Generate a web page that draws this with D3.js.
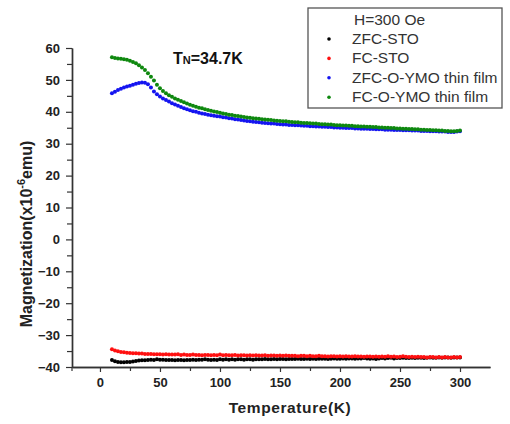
<!DOCTYPE html>
<html>
<head>
    <meta charset="utf-8" />
    <style>
        body { margin: 0; background: #fff; }
        svg { display: block; font-family: Arial, "Liberation Sans", sans-serif; }
    </style>
    <script src="https://d3js.org/d3.v7.min.js"></script>
</head>
<body>
<svg id="chart"></svg>
<script>

// temperature grid (K)
let temps = [
    10, 12.5, 15, 17.5, 20, 22.5, 25, 27.5, 30, 32.5,
    35, 37.5, 40, 42.5, 45, 47.5, 50, 52.5, 55, 57.5,
    60, 62.5, 65, 67.5, 70, 72.5, 75, 77.5, 80, 82.5,
    85, 87.5, 90, 92.5, 95, 97.5, 100, 102.5, 105, 107.5,
    110, 112.5, 115, 117.5, 120, 122.5, 125, 127.5, 130, 132.5,
    135, 137.5, 140, 142.5, 145, 147.5, 150, 152.5, 155, 157.5,
    160, 162.5, 165, 167.5, 170, 172.5, 175, 177.5, 180, 182.5,
    185, 187.5, 190, 192.5, 195, 197.5, 200, 202.5, 205, 207.5,
    210, 212.5, 215, 217.5, 220, 222.5, 225, 227.5, 230, 232.5,
    235, 237.5, 240, 242.5, 245, 247.5, 250, 252.5, 255, 257.5,
    260, 262.5, 265, 267.5, 270, 272.5, 275, 277.5, 280, 282.5,
    285, 287.5, 290, 292.5, 295, 297.5, 300
];

let zfcSTO = [
    -37.8, -38.2, -38.4, -38.5, -38.5, -38.4, -38.4, -38.3, -38.1, -38.0,
    -37.9, -37.9, -37.8, -37.7, -37.8, -37.6, -37.7, -37.7, -37.8, -37.8,
    -37.8, -37.9, -37.8, -37.8, -37.9, -37.8, -37.8, -37.7, -37.8, -37.7,
    -37.7, -37.6, -37.7, -37.8, -37.7, -37.8, -37.6, -37.7, -37.6, -37.7,
    -37.6, -37.7, -37.6, -37.6, -37.7, -37.6, -37.6, -37.7, -37.6, -37.6,
    -37.6, -37.5, -37.6, -37.6, -37.5, -37.6, -37.5, -37.5, -37.6, -37.5,
    -37.5, -37.5, -37.4, -37.5, -37.5, -37.4, -37.5, -37.4, -37.5, -37.4,
    -37.4, -37.4, -37.5, -37.4, -37.3, -37.4, -37.4, -37.3, -37.4, -37.3,
    -37.3, -37.4, -37.3, -37.3, -37.2, -37.3, -37.4, -37.3, -37.5, -37.3,
    -37.2, -37.3, -37.2, -37.1, -37.3, -37.2, -37.2, -37.1, -37.2, -37.2,
    -37.1, -37.2, -37.1, -37.1, -37.2, -37.1, -37.0, -37.1, -37.1, -37.0,
    -37.1, -37.0, -37.0, -37.1, -37.0, -37.0, -37.0
];

let fcSTO = [
    -34.4, -34.8, -35.1, -35.3, -35.4, -35.5, -35.6, -35.7, -35.7, -35.8,
    -35.8, -35.9, -35.9, -35.9, -36.0, -36.0, -36.0, -36.1, -36.0, -36.1,
    -36.1, -36.1, -36.0, -36.2, -36.1, -36.2, -36.2, -36.1, -36.2, -36.2,
    -36.3, -36.2, -36.2, -36.3, -36.2, -36.3, -36.1, -36.3, -36.2, -36.3,
    -36.3, -36.2, -36.4, -36.3, -36.3, -36.4, -36.3, -36.4, -36.3, -36.4,
    -36.4, -36.3, -36.5, -36.4, -36.4, -36.5, -36.4, -36.5, -36.4, -36.5,
    -36.5, -36.5, -36.6, -36.5, -36.5, -36.6, -36.5, -36.6, -36.6, -36.5,
    -36.6, -36.6, -36.7, -36.6, -36.6, -36.7, -36.6, -36.7, -36.6, -36.7,
    -36.7, -36.6, -36.7, -36.7, -36.8, -36.7, -36.7, -36.8, -36.7, -36.8,
    -36.7, -36.8, -36.6, -36.8, -36.7, -36.9, -36.8, -36.6, -36.8, -36.9,
    -36.8, -36.9, -36.8, -36.9, -36.9, -37.0, -36.9, -36.9, -37.0, -36.9,
    -37.0, -36.9, -37.0, -37.0, -36.9, -37.0, -36.9
];

let zfcYMO = [
    45.8, 46.3, 46.8, 47.2, 47.6, 47.9, 48.2, 48.5, 48.8, 49.0,
    49.2, 49.1, 48.6, 47.6, 46.4, 45.5, 44.8, 44.2, 43.7, 43.2,
    42.7, 42.3, 41.9, 41.5, 41.1, 40.8, 40.5, 40.2, 40.0, 39.7,
    39.5, 39.3, 39.1, 38.9, 38.8, 38.6, 38.5, 38.3, 38.2, 38.0,
    37.9, 37.7, 37.6, 37.4, 37.3, 37.1, 37.0, 36.9, 36.8, 36.7,
    36.6, 36.5, 36.4, 36.3, 36.3, 36.2, 36.1, 36.0, 36.0, 35.9,
    35.9, 35.8, 35.8, 35.7, 35.6, 35.6, 35.5, 35.5, 35.4, 35.4,
    35.3, 35.3, 35.2, 35.2, 35.1, 35.1, 35.0, 35.0, 34.9, 34.9,
    34.9, 34.8, 34.8, 34.7, 34.7, 34.7, 34.6, 34.6, 34.5, 34.5,
    34.5, 34.4, 34.4, 34.4, 34.3, 34.3, 34.3, 34.2, 34.2, 34.2,
    34.1, 34.1, 34.1, 34.0, 34.0, 34.0, 33.9, 33.9, 33.9, 33.8,
    33.8, 33.8, 33.7, 33.7, 33.7, 33.8, 33.9
];

let fcYMO = [
    57.1, 56.9, 56.7, 56.6, 56.5, 56.3, 56.0, 55.6, 55.2, 54.6,
    53.9, 53.1, 52.1, 51.0, 49.8, 48.5, 47.4, 46.5, 45.8, 45.2,
    44.7, 44.2, 43.8, 43.4, 43.0, 42.6, 42.2, 41.9, 41.6, 41.3,
    41.1, 40.8, 40.6, 40.3, 40.1, 39.9, 39.7, 39.5, 39.3, 39.1,
    39.0, 38.8, 38.7, 38.5, 38.4, 38.2, 38.1, 38.0, 37.9, 37.8,
    37.7, 37.6, 37.5, 37.4, 37.3, 37.2, 37.1, 37.0, 37.0, 36.9,
    36.8, 36.7, 36.7, 36.6, 36.5, 36.5, 36.4, 36.3, 36.3, 36.2,
    36.1, 36.1, 36.0, 36.0, 35.9, 35.8, 35.8, 35.7, 35.7, 35.6,
    35.6, 35.5, 35.5, 35.4, 35.4, 35.3, 35.3, 35.2, 35.2, 35.1,
    35.1, 35.0, 35.0, 34.9, 34.9, 34.8, 34.8, 34.7, 34.7, 34.6,
    34.6, 34.5, 34.5, 34.4, 34.4, 34.3, 34.3, 34.2, 34.2, 34.1,
    34.1, 34.0, 34.0, 33.9, 33.9, 34.0, 34.1
];

let seriesNames = ["ZFC-STO", "FC-STO", "ZFC-O-YMO thin film", "FC-O-YMO thin film"];
let seriesValues = [zfcSTO, fcSTO, zfcYMO, fcYMO];
let seriesColors = ["#000000", "#ff1010", "#1414f0", "#0e880e"];

let xMajor = [0, 50, 100, 150, 200, 250, 300];
let xMinor = [25, 75, 125, 175, 225, 275];
let yMajor = [-40, -30, -20, -10, 0, 10, 20, 30, 40, 50, 60];
let yMinor = [-35, -25, -15, -5, 5, 15, 25, 35, 45, 55];

/* layout */

let W = 510, H = 424;
let plotL = 72, plotR = 490, plotT = 48, plotB = 367;

let svg = d3.select("#chart").attr("width", W).attr("height", H);

let x = d3.scaleLinear().domain([-23.3, 325]).range([plotL, plotR]);
let y = d3.scaleLinear().domain([-40, 60]).range([plotB, plotT]);

let axisColor = "#333";

// x axis
let gx = svg.append("g").attr("transform", "translate(0," + plotB + ")");
gx.call(d3.axisBottom(x).tickValues(xMajor).tickSize(5).tickPadding(6).tickSizeOuter(0));
let gxMinor = svg.append("g").attr("transform", "translate(0," + plotB + ")");
gxMinor.call(d3.axisBottom(x).tickValues(xMinor).tickSize(4).tickFormat("").tickSizeOuter(0));

// y axis
let gy = svg.append("g").attr("transform", "translate(" + plotL + ",0)");
gy.call(d3.axisLeft(y).tickValues(yMajor).tickSize(6).tickPadding(6).tickSizeOuter(0));
let gyMinor = svg.append("g").attr("transform", "translate(" + plotL + ",0)");
gyMinor.call(d3.axisLeft(y).tickValues(yMinor).tickSize(5).tickFormat("").tickSizeOuter(0));

svg.selectAll(".domain").attr("stroke", axisColor).attr("stroke-width", 1.4);
svg.selectAll(".tick line").attr("stroke", axisColor).attr("stroke-width", 1.2);
svg.selectAll(".tick text")
    .attr("fill", "#222")
    .style("font-size", "13px")
    .style("font-weight", "bold")
    .style("font-family", "Arial, 'Liberation Sans', sans-serif");

// small tick at the axis corner
svg.append("line")
    .attr("x1", plotL).attr("x2", plotL)
    .attr("y1", plotB).attr("y2", plotB + 4)
    .attr("stroke", axisColor).attr("stroke-width", 1.2);

// data points
seriesValues.forEach((vals, i) => {
    svg.append("g")
        .selectAll("circle")
        .data(vals)
        .enter()
        .append("circle")
        .attr("cx", (d, j) => x(temps[j]))
        .attr("cy", d => y(d))
        .attr("r", 2)
        .attr("fill", seriesColors[i]);
});

// axis titles
svg.append("text")
    .attr("x", 290).attr("y", 413)
    .attr("text-anchor", "middle")
    .style("font-size", "15.5px")
    .style("font-weight", "bold")
    .style("letter-spacing", "0.6px")
    .attr("fill", "#222")
    .text("Temperature(K)");

let yTitle = svg.append("text")
    .attr("transform", "translate(32,234) rotate(-90)")
    .attr("text-anchor", "middle")
    .style("font-size", "16px")
    .style("font-weight", "bold")
    .attr("fill", "#222");
yTitle.append("tspan").text("Magnetization(x10");
yTitle.append("tspan").attr("dy", -7).style("font-size", "11px").text("-6");
yTitle.append("tspan").attr("dy", 7).text("emu)");

// T_N annotation
let tn = svg.append("text")
    .attr("x", 173).attr("y", 64)
    .style("font-size", "16px")
    .style("font-weight", "bold")
    .attr("fill", "#111");
tn.append("tspan").text("T");
tn.append("tspan").style("font-size", "11px").text("N");
tn.append("tspan").text("=34.7K");

// legend
let lg = svg.append("g");
lg.append("rect")
    .attr("x", 308).attr("y", 8)
    .attr("width", 194).attr("height", 100)
    .attr("fill", "#fff")
    .attr("stroke", "#555")
    .attr("stroke-width", 1.3);
lg.append("text")
    .attr("x", 354).attr("y", 25)
    .style("font-size", "15.5px")
    .attr("fill", "#333")
    .text("H=300 Oe");
seriesNames.forEach((name, i) => {
    let yy = 44 + i * 19.4;
    lg.append("circle")
        .attr("cx", 329).attr("cy", yy - 5)
        .attr("r", 1.8)
        .attr("fill", seriesColors[i]);
    lg.append("text")
        .attr("x", 352).attr("y", yy)
        .style("font-size", "15.5px")
        .attr("fill", "#333")
        .text(name);
});

</script>
</body>
</html>
